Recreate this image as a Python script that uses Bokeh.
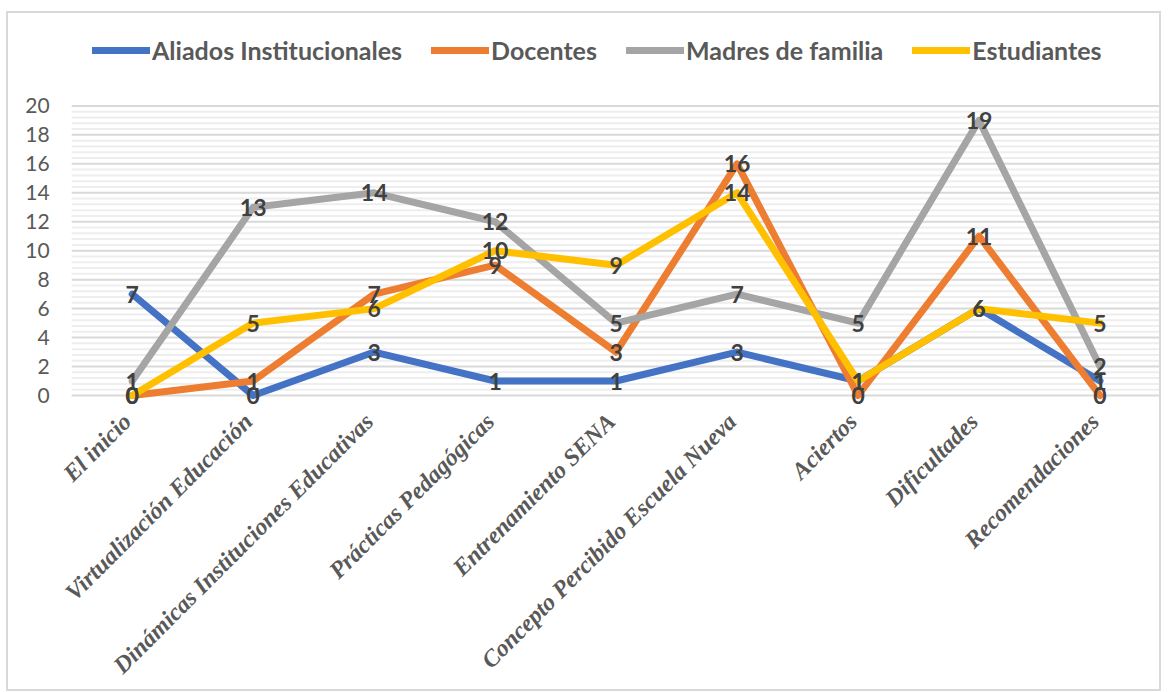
import math
from bokeh.plotting import figure
from bokeh.models import Range1d, Legend, LegendItem
from bokeh.core.properties import value
from bokeh.embed import file_html
from bokeh.resources import INLINE

categories = ["El inicio", "Virtualización Educación", "Dinámicas Instituciones Educativas",
              "Prácticas Pedagógicas", "Entrenamiento SENA", "Concepto Percibido Escuela Nueva",
              "Aciertos", "Dificultades", "Recomendaciones"]
aliados = [7, 0, 3, 1, 1, 3, 1, 6, 1]
docentes = [0, 1, 7, 9, 3, 16, 0, 11, 0]
madres = [1, 13, 14, 12, 5, 7, 5, 19, 2]
estudiantes = [0, 5, 6, 10, 9, 14, 1, 6, 5]
series_names = ["Aliados Institucionales", "Docentes", "Madres de familia", "Estudiantes"]
series_values = [aliados, docentes, madres, estudiantes]
colors = ["#4472C4", "#ED7D31", "#A5A5A5", "#FFC000"]
y_ticks = [0, 2, 4, 6, 8, 10, 12, 14, 16, 18, 20]
y_minor = [t + k * 0.4 for t in y_ticks[:-1] for k in (1, 2, 3, 4)]

# category slots: each category occupies one unit, centred at i + 0.5
n_cat = len(categories)
xpos = [i + 0.5 for i in range(n_cat)]

p = figure(width=1155, height=680,
           x_range=Range1d(-0.5224, n_cat),
           y_range=Range1d(-20.58, 25.0),
           output_backend="svg", toolbar_location=None,
           min_border_left=0, min_border_right=3, min_border_top=20, min_border_bottom=0)
p.styles = {"margin-left": "6px", "margin-top": "11px", "border": "2px solid #d9d9d9"}
p.outline_line_color = None
p.background_fill_color = "white"
p.border_fill_color = "white"

p.xaxis.visible = False
p.yaxis.visible = False
p.xgrid.visible = False
p.ygrid.visible = False

# gridlines across the category area
p.segment(x0=[0] * len(y_minor), x1=[n_cat] * len(y_minor), y0=y_minor, y1=y_minor,
          line_color="#eeeeee", line_width=2)
p.segment(x0=[0] * len(y_ticks), x1=[n_cat] * len(y_ticks), y0=y_ticks, y1=y_ticks,
          line_color="#d9d9d9", line_width=2)

# y tick labels
p.text(x=[0] * len(y_ticks), y=y_ticks, text=[str(t) for t in y_ticks], x_offset=-22,
       text_align="right", text_baseline="middle",
       text_font=value("Lato"), text_font_size="21px", text_color="#595959")

renderers = []
for vals, c in zip(series_values, colors):
    r = p.line(xpos, vals, line_color=c, line_width=7, line_join="round", line_cap="round")
    renderers.append(r)

for vals in series_values:
    p.text(x=xpos, y=vals, text=[str(v) for v in vals],
           text_font=value("Lato"), text_font_style="bold", text_font_size="23px",
           text_color="#404040", text_align="center", text_baseline="middle")

legend = Legend(items=[LegendItem(label=n, renderers=[r]) for n, r in zip(series_names, renderers)],
                orientation="horizontal", location=(84, 628),
                label_text_font="Lato", label_text_font_style="bold", label_text_font_size="25px",
                label_text_color="#595959", glyph_width=58, glyph_height=28, label_height=28,
                label_standoff=2, spacing=29, padding=0, margin=0,
                border_line_color=None, background_fill_alpha=0)
p.add_layout(legend)

# category labels, rotated
p.text(x=xpos, y=[0] * n_cat, text=categories, angle=math.pi / 4,
       text_align="right", text_baseline="middle", x_offset=-5, y_offset=22,
       text_font=value("Liberation Serif"), text_font_style="bold italic",
       text_font_size="24px", text_color="#595959")

open("out.html", "w").write(file_html(p, INLINE))
